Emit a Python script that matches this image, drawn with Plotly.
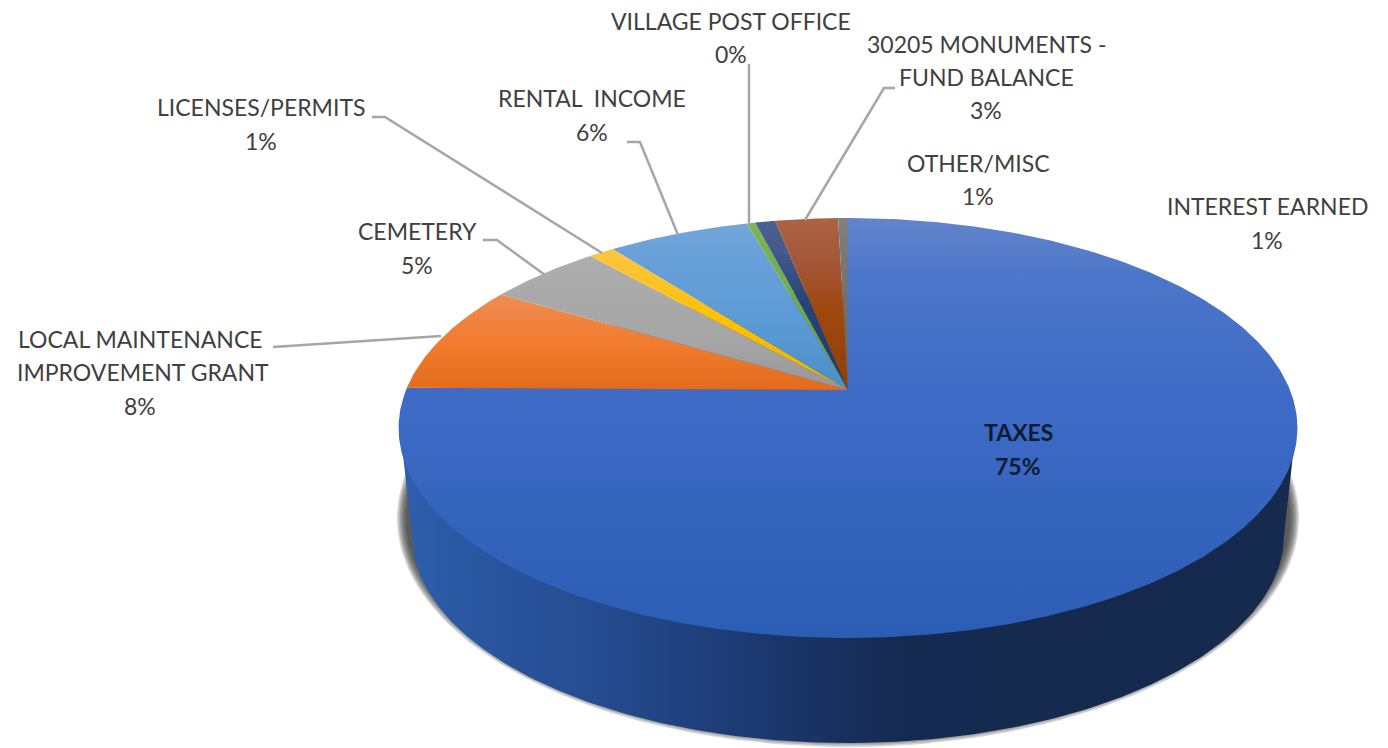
import numpy as np
import plotly.graph_objects as go

# ---- data ----
categories = ["TAXES", "LOCAL MAINTENANCE IMPROVEMENT GRANT", "CEMETERY", "LICENSES/PERMITS",
              "RENTAL INCOME", "VILLAGE POST OFFICE", "OTHER/MISC",
              "30205 MONUMENTS - FUND BALANCE", "INTEREST EARNED"]
values = [75.17, 8.42, 4.89, 1.11, 6.08, 0.36, 0.86, 2.69, 0.42]

# vertical gradient stops for the top face of every slice (position, colour)
slice_gradients = [
    [(0, "#6384CC"), (0.14, "#4C76C9"), (0.42, "#3E6BC6"), (1, "#2C5DB4")],
    [(0, "#F09A68"), (0.18, "#EE8C55"), (0.30, "#F27B2E"), (0.42, "#E2691C"), (1, "#D05C10")],
    [(0, "#B4B4B4"), (0.1, "#ADADAD"), (0.30, "#A5A5A5"), (0.42, "#949494"), (1, "#8A8A8A")],
    [(0, "#FCCB50"), (0.1, "#FCC438"), (0.25, "#FFC000"), (0.42, "#EDB000"), (1, "#DDA000")],
    [(0, "#72A8DA"), (0.1, "#689FD8"), (0.25, "#5B9BD5"), (0.42, "#4A8CC8"), (1, "#3F7FBA")],
    [(0, "#7FB65A"), (0.1, "#74B04C"), (0.42, "#66A03F"), (1, "#5F9639")],
    [(0, "#4C6190"), (0.08, "#45598A"), (0.2, "#264478"), (0.42, "#1F3A68"), (1, "#1B3360")],
    [(0, "#AA6444"), (0.1, "#A4573A"), (0.22, "#9E480E"), (0.42, "#8F3F08"), (1, "#803804")],
    [(0, "#808080"), (0.1, "#777777"), (0.42, "#636363"), (1, "#5A5A5A")],
]
wall_gradient = [(0, "#2F60AE"), (0.05, "#2B5AA5"), (0.22, "#254C90"), (0.40, "#1C3870"),
                 (0.56, "#152A50"), (1, "#16294E")]

label_lines = [
    ["TAXES", "75%"],
    ["LOCAL MAINTENANCE", "IMPROVEMENT GRANT", "8%"],
    ["CEMETERY", "5%"],
    ["LICENSES/PERMITS", "1%"],
    ["RENTAL  INCOME", "6%"],
    ["VILLAGE POST OFFICE", "0%"],
    ["OTHER/MISC", "1%"],
    ["30205 MONUMENTS -", "FUND BALANCE", "3%"],
    ["INTEREST EARNED", "1%"],
]

# ---- layout constants (page pixels) ----
label_pos = [
    [(1018, 432), (1018, 466)],
    [(140, 339), (143, 372), (140, 406)],
    [(417, 231), (417, 265)],
    [(261, 107), (261, 141)],
    [(592, 98), (592, 132)],
    [(731, 21), (731, 54)],
    [(978, 163), (978, 196)],
    [(986, 44), (986, 77), (986, 110)],
    [(1267, 206), (1267, 240)],
]
leaders = [
    [(273, 347), (441, 336)],
    [(483, 240), (497, 240), (545, 275)],
    [(372, 117), (385, 117), (602, 253)],
    [(627, 142), (640, 142), (678, 235)],
    [(749, 64), (749, 223)],
    [(895, 88), (884, 88), (805, 220)],
]
APEX = (848, 390)
A, B, K = 442.0, 203.1, 0.181     # perspective disc
BOT = dict(a=436.0, cy=535.0, b=208.0)


def disc(theta):
    """Clockwise angle from 12 o'clock -> page pixels on the perspective disc."""
    X, Y = np.sin(theta), np.cos(theta)
    w = 1 + K * Y
    return APEX[0] + A * X / w, APEX[1] - B * Y / w


fig = go.Figure()


def poly(x, y, **kw):
    fig.add_trace(go.Scatter(x=list(x), y=list(y), mode="lines", fill="toself", line=dict(width=0),
                             hoverinfo="skip", showlegend=False, **kw))


# soft shadow under the wall
for i in range(7):
    t = i / 6
    a, b = 451 - 9 * t, 229 - 9 * t
    cy = 518
    p = np.linspace(0, 2 * np.pi, 240)
    poly(APEX[0] + a * np.cos(p), cy + b * np.sin(p), fillcolor="rgba(50,50,50,0.2)")

# wall: hull of the top disc and bottom ellipse
left_t = np.radians(262)
right_t = np.radians(98)
tl = disc(left_t)
tr = disc(right_t)
p = np.linspace(np.pi, 0, 240)
wx = [tl[0]] + list(APEX[0] + BOT["a"] * np.cos(p)) + [tr[0]]
wy = [tl[1]] + list(BOT["cy"] + BOT["b"] * np.sin(p)) + [tr[1]]
poly(wx, wy, fillgradient=dict(type="horizontal", start=398, stop=1297,
                               colorscale=[list(s) for s in wall_gradient]))

# top faces
total = sum(values)
edges = np.concatenate([[0], np.cumsum(values)]) / total * 2 * np.pi
for i, name in enumerate(categories):
    n = max(3, int((edges[i + 1] - edges[i]) * 90))
    th = np.linspace(edges[i], edges[i + 1], n)
    x, y = disc(th)
    poly([APEX[0], *x, APEX[0]], [APEX[1], *y, APEX[1]], name=name,
         fillgradient=dict(type="vertical", start=218, stop=638,
                           colorscale=[list(s) for s in slice_gradients[i]]))

# leader lines
for pts in leaders:
    fig.add_trace(go.Scatter(x=[q[0] for q in pts], y=[q[1] for q in pts], mode="lines",
                             line=dict(color="#A6A6A6", width=2.5), hoverinfo="skip", showlegend=False))

# labels
for i, lines in enumerate(label_lines):
    for txt, (x, y) in zip(lines, label_pos[i]):
        fig.add_annotation(x=x, y=y, text=f"<b>{txt}</b>" if i == 0 else txt, showarrow=False,
                           xanchor="center", yanchor="middle",
                           font=dict(family="Lato, Carlito, sans-serif", size=23,
                                     color="#0F1B33" if i == 0 else "#404040"))

fig.update_layout(
    width=1388, height=748, margin=dict(l=0, r=0, t=0, b=0),
    paper_bgcolor="white", plot_bgcolor="white", showlegend=False,
    xaxis=dict(range=[0, 1388], visible=False, fixedrange=True),
    yaxis=dict(range=[748, 0], visible=False, fixedrange=True),
)
fig.write_html("out.html", config=dict(displayModeBar=False),
               post_script="document.body.style.margin='0';document.body.style.overflow='hidden';")
